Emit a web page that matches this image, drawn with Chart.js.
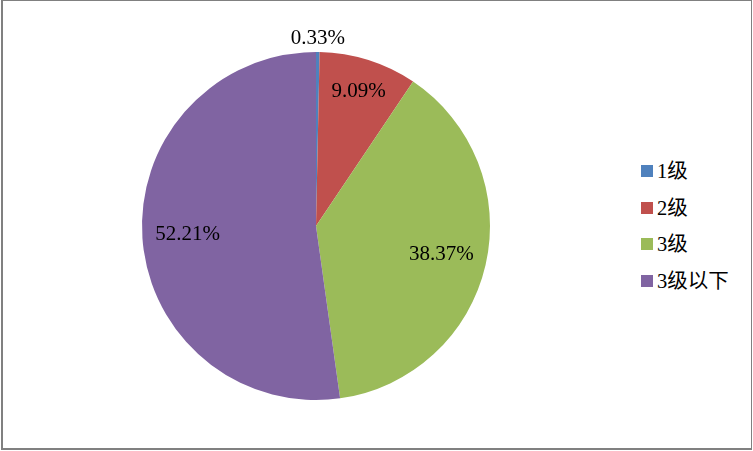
<!DOCTYPE html>
<html>
<head>
<meta charset="utf-8">
<script src="https://cdn.jsdelivr.net/npm/chart.js@4/dist/chart.umd.min.js"></script>
<style>
  html, body { margin: 0; padding: 0; background: #fff; }
  #frame { position: absolute; left: 1px; top: 0px; width: 751px; height: 450px; box-sizing: border-box;
           border: 1px solid #808080; border-left-width: 2px; border-bottom-width: 2px; }
  #wrap { position: absolute; left: 0; top: 0; width: 632px; height: 451px; }
  #legend { position: absolute; left: 641px; top: 158px; font-family: "Liberation Serif", "Noto Sans CJK SC", serif;
            font-size: 20.5px; color: #000; }
  .item { height: 36.5px; display: flex; align-items: flex-start; line-height: 26px; }
  .box { width: 12px; height: 12px; margin-top: 7px; margin-right: 4px; flex: none; }
</style>
</head>
<body>
<div id="frame"></div>
<div id="wrap"><canvas id="c"></canvas></div>
<div id="legend"></div>
<script>
const categories = ["1级", "2级", "3级", "3级以下"];
const values = [0.33, 9.09, 38.37, 52.21];
const colors = ["#4F81BD", "#C0504D", "#9BBB59", "#8064A2"];

const labelRadius = [1.08, 0.81, 0.74, 0.74];

const labelPlugin = {
  id: 'sliceLabels',
  afterDatasetsDraw(chart) {
    const ctx = chart.ctx;
    const meta = chart.getDatasetMeta(0);
    ctx.save();
    ctx.font = '21px "Liberation Serif", serif';
    ctx.fillStyle = '#000';
    ctx.textAlign = 'center';
    ctx.textBaseline = 'middle';
    meta.data.forEach((arc, i) => {
      const p = arc.getProps(['x', 'y', 'startAngle', 'endAngle', 'outerRadius'], true);
      const mid = (p.startAngle + p.endAngle) / 2;
      const r = p.outerRadius * labelRadius[i];
      ctx.fillText(values[i].toFixed(2) + '%', p.x + Math.cos(mid) * r, p.y + Math.sin(mid) * r);
    });
    ctx.restore();
  }
};

new Chart(document.getElementById('c'), {
  type: 'pie',
  data: {
    labels: categories,
    datasets: [{ data: values, backgroundColor: colors, borderWidth: 0 }]
  },
  options: {
    responsive: true,
    maintainAspectRatio: false,
    animation: false,
    layout: { padding: { top: 52, bottom: 51, left: 0, right: 0 } },
    plugins: { legend: { display: false }, tooltip: { enabled: false } }
  },
  plugins: [labelPlugin]
});

const leg = document.getElementById('legend');
categories.forEach((c, i) => {
  const d = document.createElement('div');
  d.className = 'item';
  const b = document.createElement('span');
  b.className = 'box';
  b.style.background = colors[i];
  const t = document.createElement('span');
  t.textContent = c;
  d.appendChild(b); d.appendChild(t);
  leg.appendChild(d);
});
</script>
</body>
</html>
